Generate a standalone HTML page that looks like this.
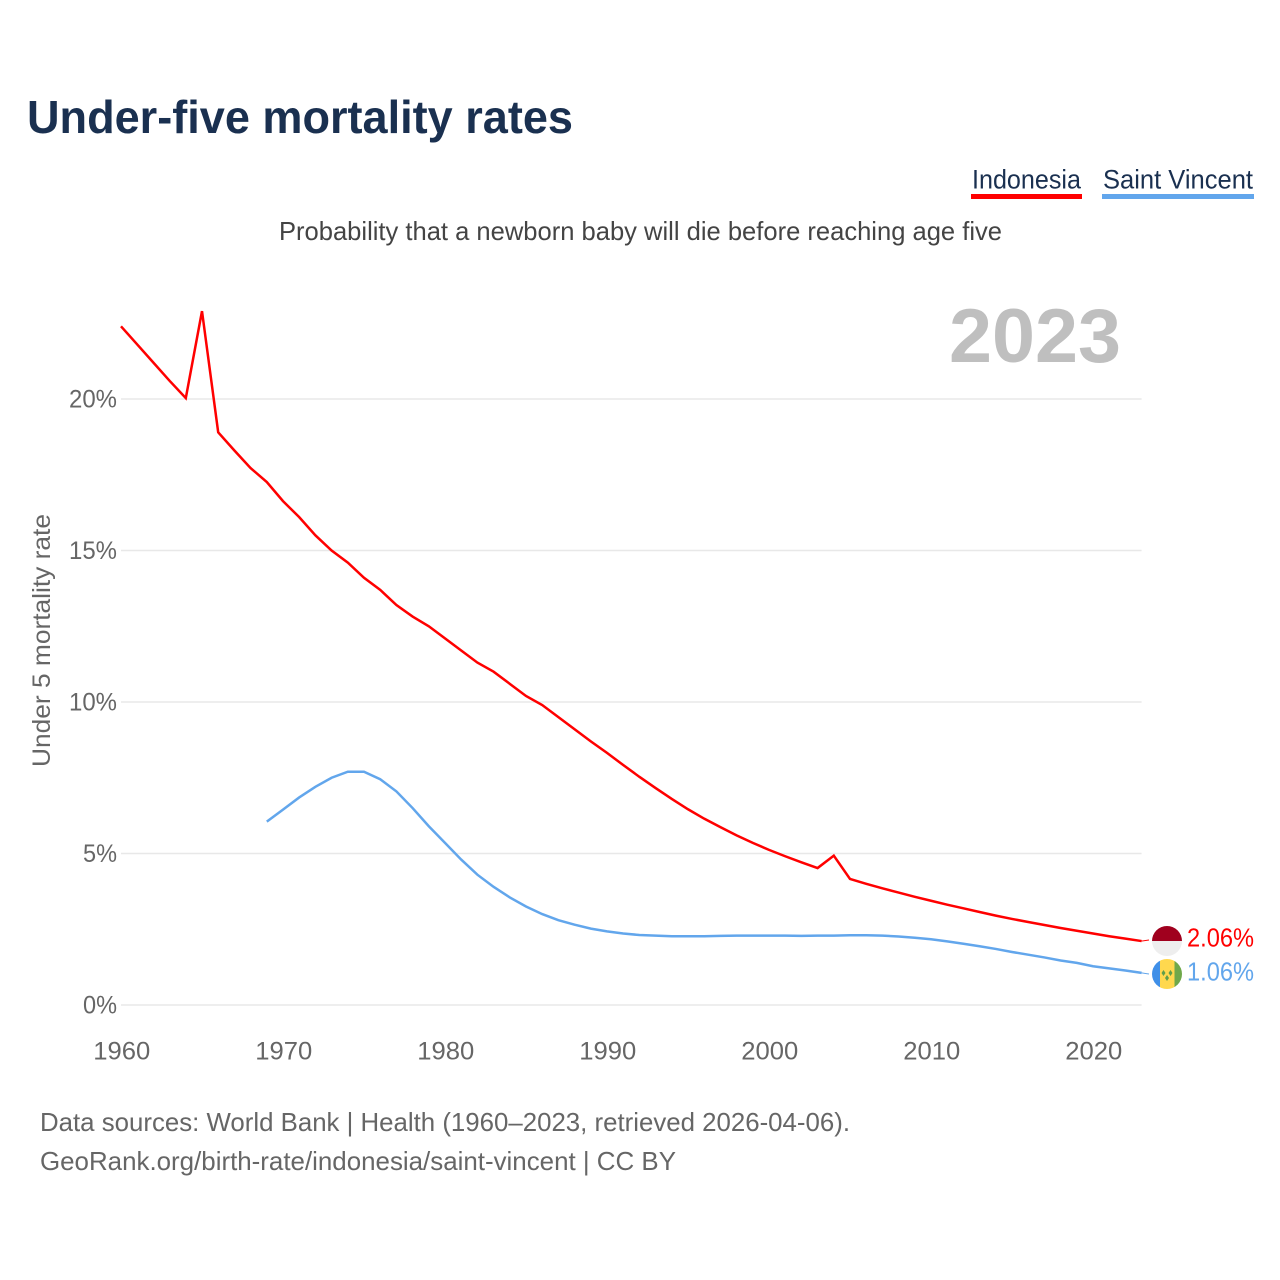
<!DOCTYPE html>
<html lang="en">
<head>
<meta charset="utf-8">
<title>Under-five mortality rates</title>
<style>
html,body{margin:0;padding:0;background:#fff;width:1280px;height:1280px;overflow:hidden}
svg{display:block}
text{font-family:"Liberation Sans",sans-serif}
</style>
</head>
<body>
<svg id="chart" width="1280" height="1280" viewBox="0 0 1280 1280" xmlns="http://www.w3.org/2000/svg">
  <text x="27" y="133" font-size="46" font-weight="700" fill="#1a3050" textLength="546" lengthAdjust="spacingAndGlyphs">Under-five mortality rates</text>

  <g>
    <text x="972" y="188.500" font-size="27" fill="#1a3050" textLength="109" lengthAdjust="spacingAndGlyphs">Indonesia</text>
    <rect x="971" y="194" width="111" height="5" fill="#ff0000"/>
  </g>
  <g>
    <text x="1103" y="188.500" font-size="27" fill="#1a3050" textLength="150" lengthAdjust="spacingAndGlyphs">Saint Vincent</text>
    <rect x="1102" y="194" width="152" height="5" fill="#62a6ec"/>
  </g>

  <text x="279" y="240" font-size="26" fill="#444444" textLength="723" lengthAdjust="spacingAndGlyphs">Probability that a newborn baby will die before reaching age five</text>

  <text x="949" y="362" font-size="76" font-weight="700" fill="#bfbfbf" textLength="172" lengthAdjust="spacingAndGlyphs">2023</text>

  <g id="grid"></g>
  <g id="yticks"></g>
  <g id="xticks"></g>
  <g id="series"></g>

  <text transform="translate(50,767) rotate(-90)" x="0" y="0" font-size="25" fill="#666666" textLength="253" lengthAdjust="spacingAndGlyphs">Under 5 mortality rate</text>

  <defs>
    <clipPath id="clip-id"><circle cx="1167" cy="941" r="15"/></clipPath>
    <clipPath id="clip-vc"><circle cx="1167" cy="974" r="15"/></clipPath>
  </defs>
  <g clip-path="url(#clip-id)">
    <rect x="1152" y="926" width="30" height="15" fill="#a0001e"/>
    <rect x="1152" y="941" width="30" height="15" fill="#eeeeee"/>
  </g>
  <g clip-path="url(#clip-vc)">
    <rect x="1152" y="959" width="8" height="30" fill="#3f8fe8"/>
    <rect x="1160" y="959" width="15" height="30" fill="#ffd84e"/>
    <rect x="1174.500" y="959" width="8" height="30" fill="#6fa84a"/>
    <path d="M1163.500 970l2 3-2 3-2-3zM1170.500 970l2 3-2 3-2-3zM1167 975l2 3-2 3-2-3z" fill="#5f9e4a"/>
  </g>

  <text id="end-label-indonesia" x="1187" y="946.500" font-size="26" fill="#ff0000" textLength="67" lengthAdjust="spacingAndGlyphs">2.06%</text>
  <text id="end-label-vc" x="1187" y="980.500" font-size="26" fill="#62a6ec" textLength="67" lengthAdjust="spacingAndGlyphs">1.06%</text>

  <text x="40" y="1131" font-size="26" fill="#666666" textLength="810" lengthAdjust="spacingAndGlyphs">Data sources: World Bank | Health (1960–2023, retrieved 2026-04-06).</text>
  <text x="40" y="1170" font-size="26" fill="#666666" textLength="636" lengthAdjust="spacingAndGlyphs">GeoRank.org/birth-rate/indonesia/saint-vincent | CC BY</text>
</svg>
<script>
const yTicks = [0, 5, 10, 15, 20];
const xTicks = [1960, 1970, 1980, 1990, 2000, 2010, 2020];
const indonesiaStartYear = 1960;
const indonesiaValues = [22.4,21.8,21.2,20.6,20.03,22.9,18.9,18.3,17.72,17.26,16.63,16.1,15.5,15.0,14.6,14.1,13.7,13.2,12.82,12.5,12.1,11.7,11.3,11.0,10.6,10.2,9.9,9.5,9.1,8.7,8.32,7.92,7.53,7.16,6.8,6.46,6.15,5.87,5.6,5.35,5.12,4.91,4.71,4.52,4.93,4.16,4.0,3.85,3.71,3.57,3.44,3.31,3.19,3.07,2.95,2.84,2.74,2.64,2.54,2.45,2.36,2.27,2.19,2.11];
const saintVincentStartYear = 1969;
const saintVincentValues = [6.05,6.45,6.85,7.2,7.5,7.7,7.7,7.45,7.05,6.5,5.9,5.35,4.8,4.3,3.9,3.55,3.25,3.0,2.8,2.65,2.52,2.43,2.36,2.31,2.29,2.27,2.27,2.27,2.28,2.29,2.29,2.29,2.29,2.28,2.29,2.29,2.3,2.3,2.29,2.26,2.22,2.17,2.1,2.02,1.94,1.85,1.75,1.66,1.57,1.47,1.39,1.28,1.21,1.14,1.06];

const SVG_NS = 'http://www.w3.org/2000/svg';
const xScale = function (year) { return 121 + (year - 1960) * 16.2; };
const yScale = function (v) { return 1005 - v * (1005 - 399) / 20; };

const grid = document.getElementById('grid');
const yTickGroup = document.getElementById('yticks');
const xTickGroup = document.getElementById('xticks');
const seriesGroup = document.getElementById('series');

yTicks.forEach(function (t) {
  const line = document.createElementNS(SVG_NS, 'line');
  
  
  line.setAttribute('x1', xScale(1960));
  line.setAttribute('x2', xScale(2023));
  line.setAttribute('y1', yScale(t));
  line.setAttribute('y2', yScale(t));
  line.setAttribute('stroke', '#e8e8e8');
  line.setAttribute('stroke-width', '1.5');
  grid.appendChild(line);

  const label = document.createElementNS(SVG_NS, 'text');
  
  
  label.setAttribute('x', 117);
  label.setAttribute('y', yScale(t) + 8.5);
  label.setAttribute('text-anchor', 'end');
  label.setAttribute('font-size', '25');
  label.setAttribute('fill', '#666666');
  label.setAttribute('textLength', t >= 10 ? 48 : 34);
  label.setAttribute('lengthAdjust', 'spacingAndGlyphs');
  label.textContent = t + '%';
  yTickGroup.appendChild(label);
});

xTicks.forEach(function (t) {
  const label = document.createElementNS(SVG_NS, 'text');
  
  
  label.setAttribute('x', xScale(t) + 0.75);
  label.setAttribute('y', 1059.5);
  label.setAttribute('text-anchor', 'middle');
  label.setAttribute('font-size', '25');
  label.setAttribute('fill', '#666666');
  label.setAttribute('textLength', 57);
  label.setAttribute('lengthAdjust', 'spacingAndGlyphs');
  label.textContent = t;
  xTickGroup.appendChild(label);
});

function pointsFor(startYear, values) {
  return values.map(function (v, i) {
    return xScale(startYear + i).toFixed(2) + ',' + yScale(v).toFixed(2);
  }).join(' ');
}

const indonesiaLine = document.createElementNS(SVG_NS, 'polyline');


indonesiaLine.setAttribute('points', pointsFor(indonesiaStartYear, indonesiaValues));
indonesiaLine.setAttribute('fill', 'none');
indonesiaLine.setAttribute('stroke', '#ff0000');
indonesiaLine.setAttribute('stroke-width', '2.5');
seriesGroup.appendChild(indonesiaLine);

const vincentLine = document.createElementNS(SVG_NS, 'polyline');


vincentLine.setAttribute('points', pointsFor(saintVincentStartYear, saintVincentValues));
vincentLine.setAttribute('fill', 'none');
vincentLine.setAttribute('stroke', '#62a6ec');
vincentLine.setAttribute('stroke-width', '2.5');
seriesGroup.appendChild(vincentLine);

const idLast = indonesiaValues[indonesiaValues.length - 1];
const idConnector = document.createElementNS(SVG_NS, 'line');


idConnector.setAttribute('x1', xScale(2023));
idConnector.setAttribute('y1', yScale(idLast));
idConnector.setAttribute('x2', 1149);
idConnector.setAttribute('y2', 940);
idConnector.setAttribute('stroke', '#ff0000');
idConnector.setAttribute('stroke-width', '1');
seriesGroup.appendChild(idConnector);

const vcLast = saintVincentValues[saintVincentValues.length - 1];
const vcConnector = document.createElementNS(SVG_NS, 'line');


vcConnector.setAttribute('x1', xScale(2023));
vcConnector.setAttribute('y1', yScale(vcLast));
vcConnector.setAttribute('x2', 1149);
vcConnector.setAttribute('y2', 974);
vcConnector.setAttribute('stroke', '#62a6ec');
vcConnector.setAttribute('stroke-width', '1');
seriesGroup.appendChild(vcConnector);
</script>
</body>
</html>
